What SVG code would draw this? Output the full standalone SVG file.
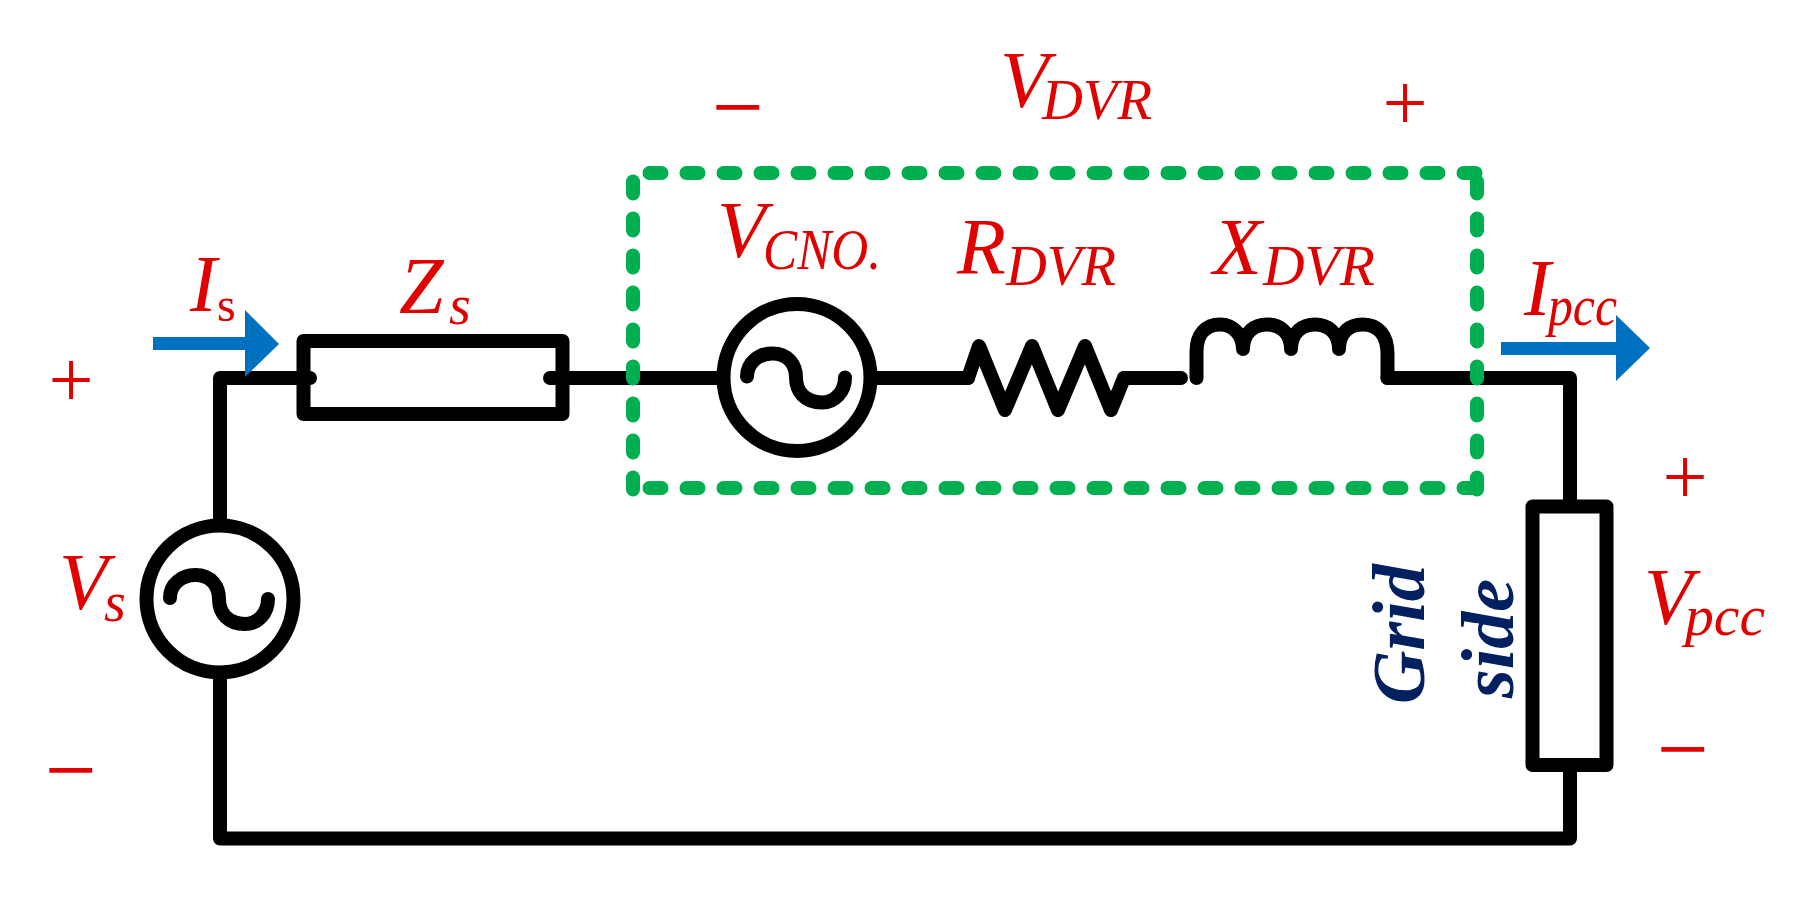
<svg xmlns="http://www.w3.org/2000/svg" xmlns:xlink="http://www.w3.org/1999/xlink" width="1794" height="904" viewBox="0 0 1794 904">
<style>
.w{fill:none;stroke:#000;stroke-width:14px;stroke-linecap:round;stroke-linejoin:round}
.g{fill:none;stroke:#00B050;stroke-width:14px;stroke-linecap:round;stroke-dasharray:12 25}
.a{fill:#0070C0}
text{font-family:"Liberation Serif","Times New Roman",serif}
.l{fill:#E00000;font-style:italic}
.m{font-size:80px}
.s{font-size:56px}
.p{fill:#E00000;font-size:80px;text-anchor:middle}
.q{fill:#E00000;font-size:92px;text-anchor:middle}
.n{fill:#002060;font-style:italic;font-weight:bold;font-size:74px}
</style>
<defs>
<g id="ac">
<circle r="73.5" class="w"/>
<path class="w" d="M-50 -1C-50-15-38-24-25-24C-8-24-1-12-1 0C-1 14 8 25 25 25C38 25 48 14 48 0"/>
</g>
</defs>
<rect width="1794" height="904" fill="#fff"/>
<g id="connectors">
<path class="w" d="M220 519V378H310"/>
<path class="w" d="M550 378H717"/>
<path class="w" d="M877 378H968"/>
<path class="w" d="M1124 378H1181"/>
<path class="w" d="M1387.5 378H1570V500"/>
<path class="w" d="M220 679V838.5H1570V771"/>
</g>
<g id="Vs"><use xlink:href="#ac" href="#ac" x="220" y="599"/></g>
<g id="Zs"><rect class="w" x="303.5" y="341" width="259" height="73"/></g>
<g id="VCNO"><use xlink:href="#ac" href="#ac" x="797" y="377.5"/></g>
<g id="RDVR"><path class="w" d="M968 378L979 346L1005 410L1032 346L1058 410L1085 346L1111 410L1124 378"/></g>
<g id="XDVR"><path class="w" d="M1196.5 378V352C1196.5 334 1206 324.5 1220 324.5C1234 324.5 1243 336 1243 349C1243 332 1255 324.5 1267 324.5C1279 324.5 1291 332 1291 349C1291 332 1303 324.5 1315 324.5C1327 324.5 1339 332 1339 349C1339 332 1350 324.5 1363 324.5C1378 324.5 1387.5 335 1387.5 354V378"/></g>
<g id="Grid"><rect class="w" x="1532.5" y="506.5" width="74" height="258.5"/></g>
<g id="DVR-box">
<path class="g" d="M649.5 173H1477"/>
<path class="g" d="M649.5 488H1477"/>
<path class="g" d="M633 181.5V490"/>
<path class="g" d="M1477 181.5V490"/>
</g>
<g id="Is-arrow"><polygon class="a" points="153,337 245,337 245,310 279,344 245,377 245,350 153,350"/></g>
<g id="Ipcc-arrow"><polygon class="a" points="1501,342 1616,342 1616,315 1650,348 1616,381 1616,355 1501,355"/></g>
<g id="labels">
<text class="l"><tspan class="m" x="1000" y="107">V</tspan><tspan class="s" x="1042" y="119" textLength="110" lengthAdjust="spacingAndGlyphs">DVR</tspan></text>
<text class="l"><tspan class="m" x="717" y="257">V</tspan><tspan class="s" x="763" y="269" textLength="118" lengthAdjust="spacingAndGlyphs">CNO.</tspan></text>
<text class="l"><tspan class="m" x="957" y="274">R</tspan><tspan class="s" x="1006" y="284.5" textLength="110" lengthAdjust="spacingAndGlyphs">DVR</tspan></text>
<text class="l"><tspan class="m" x="1213" y="274">X</tspan><tspan class="s" x="1263" y="284.5" textLength="112" lengthAdjust="spacingAndGlyphs">DVR</tspan></text>
<text class="l"><tspan class="m" x="190" y="311">I</tspan><tspan font-size="48" font-style="normal" x="217" y="321">s</tspan></text>
<text class="l"><tspan class="m" x="399" y="313">Z</tspan><tspan class="s" x="449" y="324">s</tspan></text>
<text class="l"><tspan class="m" x="59" y="609">V</tspan><tspan class="s" x="104" y="621">s</tspan></text>
<text class="l"><tspan class="m" x="1524" y="315">I</tspan><tspan class="s" x="1548" y="325" textLength="69" lengthAdjust="spacingAndGlyphs">pcc</tspan></text>
<text class="l"><tspan class="m" x="1644" y="624">V</tspan><tspan class="s" x="1685" y="635" textLength="80" lengthAdjust="spacingAndGlyphs">pcc</tspan></text>
<text class="p" x="71" y="406.5">+</text>
<text class="p" x="1405" y="129.5">+</text>
<text class="p" x="1685" y="503.5">+</text>
<text class="q" x="738" y="138">−</text>
<text class="q" x="71" y="801">−</text>
<text class="q" x="1683" y="780">−</text>
<text class="n" transform="translate(1424 704) rotate(-90)">Grid</text>
<text class="n" transform="translate(1513 698) rotate(-90)">side</text>
</g>
</svg>
